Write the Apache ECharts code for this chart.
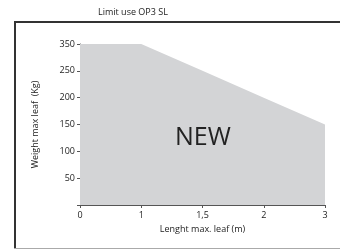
<!DOCTYPE html>
<html style="height: 100%">
<head>
    <meta charset="UTF-8">
    <title>Limit use OP3 SL</title>
    <script src="https://cdn.jsdelivr.net/npm/echarts@6/dist/echarts.min.js"></script>
</head>
<body style="height: 100%; margin: 0; background: #fff">
    <div id="main" style="width: 340px; height: 250px"></div>
    <script type="text/javascript">
        // tick labels (spaced evenly on the chart, not to scale)
        const xTicks = [0, 1, 1.5, 2, 3];
        const yTicks = [0, 50, 100, 150, 200, 250, 350];
        const xTickText = ['0', '1', '1,5', '2', '3'];

        // limit curve: length (m) -> weight (kg)
        const lengths = [0, 1, 1.5, 2, 3];
        const weights = [350, 350, 250, 200, 150];

        const pts = lengths.map(function (l, i) {
            return [xTicks.indexOf(l), yTicks.indexOf(weights[i])];
        });

        var myChart = echarts.init(document.getElementById('main'));
        var font = 'Open Sans';

        myChart.setOption({
            animation: false,
            title: {
                text: 'Limit use OP3 SL',
                left: 93,
                top: 3,
                textStyle: {fontSize: 9, fontWeight: 'normal', color: '#222', fontFamily: font}
            },
            grid: {left: 80, right: 15, top: 44, bottom: 45},
            xAxis: {
                type: 'value',
                min: 0,
                max: 4,
                interval: 1,
                name: 'Lenght max. leaf (m)',
                nameLocation: 'middle',
                nameGap: 19,
                nameTextStyle: {fontSize: 9, color: '#222', fontFamily: font},
                axisLine: {lineStyle: {color: '#555', width: 1}},
                axisTick: {show: true, length: 3, lineStyle: {color: '#555'}},
                axisLabel: {
                    fontSize: 9, color: '#222', fontFamily: font, margin: 6,
                    formatter: function (v) { return xTickText[v] || ''; }
                },
                splitLine: {show: false}
            },
            yAxis: {
                type: 'value',
                min: 0,
                max: 6,
                interval: 1,
                name: 'Weight max leaf  (Kg)',
                nameLocation: 'middle',
                nameGap: 40,
                nameTextStyle: {fontSize: 9, color: '#222', fontFamily: font},
                axisLine: {show: true, lineStyle: {color: '#555', width: 1}},
                axisTick: {show: true, length: 3, lineStyle: {color: '#555'}},
                axisLabel: {
                    fontSize: 9, color: '#222', fontFamily: font, margin: 5,
                    formatter: function (v) { return v === 0 ? '' : String(yTicks[v]); }
                },
                splitLine: {show: false}
            },
            graphic: [
                {type: 'rect', shape: {x: 14, y: 21, width: 330, height: 2}, style: {fill: '#333'}},
                {type: 'rect', shape: {x: 14, y: 21, width: 2, height: 227}, style: {fill: '#333'}},
                {type: 'rect', shape: {x: 14, y: 248, width: 330, height: 1}, style: {fill: '#aaa'}},
                {
                    type: 'text', left: 175, top: 125, z: 100,
                    style: {text: 'NEW', fontSize: 25, fill: '#222', fontFamily: font}
                }
            ],
            series: [{
                type: 'line',
                data: pts,
                symbol: 'none',
                lineStyle: {width: 0},
                areaStyle: {color: '#d3d4d6', opacity: 1},
                z: 1
            }]
        });
    </script>
</body>
</html>
